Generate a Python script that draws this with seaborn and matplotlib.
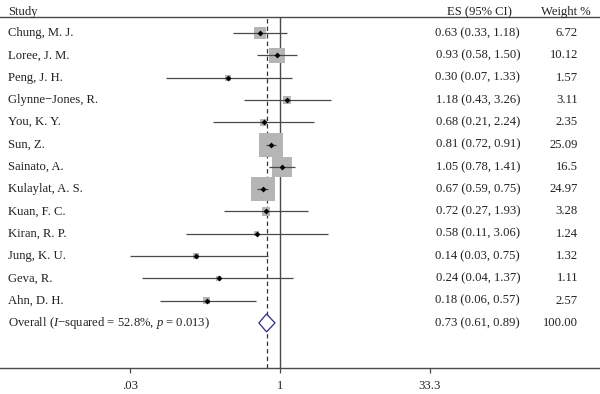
import numpy as np
import pandas as pd
import matplotlib
matplotlib.use('Agg')
import matplotlib.pyplot as plt
import matplotlib.transforms as mtransforms
import seaborn as sns

# Forest plot data
studies = ["Chung, M. J.", "Loree, J. M.", "Peng, J. H.", "Glynne\u2212Jones, R.", "You, K. Y.",
           "Sun, Z.", "Sainato, A.", "Kulaylat, A. S.", "Kuan, F. C.", "Kiran, R. P.",
           "Jung, K. U.", "Geva, R.", "Ahn, D. H."]
es = [0.63, 0.93, 0.30, 1.18, 0.68, 0.81, 1.05, 0.67, 0.72, 0.58, 0.14, 0.24, 0.18]
ci_lo = [0.33, 0.58, 0.07, 0.43, 0.21, 0.72, 0.78, 0.59, 0.27, 0.11, 0.03, 0.04, 0.06]
ci_hi = [1.18, 1.50, 1.33, 3.26, 2.24, 0.91, 1.41, 0.75, 1.93, 3.06, 0.75, 1.37, 0.57]
weights = [6.72, 10.12, 1.57, 3.11, 2.35, 25.09, 16.5, 24.97, 3.28, 1.24, 1.32, 1.11, 2.57]
weight_labels = ["6.72", "10.12", "1.57", "3.11", "2.35", "25.09", "16.5", "24.97",
                 "3.28", "1.24", "1.32", "1.11", "2.57"]
overall_label = "Overall ($I$\u2212squared = 52.8%, $p$ = 0.013)"
overall_es, overall_lo, overall_hi = 0.73, 0.61, 0.89
overall_weight = "100.00"
xticks = [0.03, 1, 33.3]
xtick_labels = [".03", "1", "33.3"]

sns.set_style("white")
plt.rcParams['font.family'] = ['Liberation Serif', 'DejaVu Serif']
plt.rcParams['mathtext.fontset'] = 'custom'
plt.rcParams['mathtext.rm'] = 'Liberation Serif'
plt.rcParams['mathtext.it'] = 'Liberation Serif:italic'

df = pd.DataFrame({"study": studies, "es": es, "lo": ci_lo, "hi": ci_hi,
                   "weight": weights, "row": np.arange(len(studies))})

fig = plt.figure(figsize=(6, 3.94), dpi=100)
ax = fig.add_axes([0, 26 / 394, 1, 351 / 394])

fs = 9.1
ink = "#222222"
line_col = "#4a4a4a"

# weight boxes (area proportional to weight)
sns.scatterplot(data=df, x="es", y="row", size="weight", marker="s",
                sizes=(0, 11.9 * 25.09), size_norm=(0, 25.09),
                color="#b5b5b5", linewidth=0, legend=False, ax=ax, zorder=2)
# confidence intervals
ax.hlines(df["row"], df["lo"], df["hi"], color=line_col, lw=0.9, zorder=3)
# point estimates
sns.scatterplot(data=df, x="es", y="row", marker="D", s=9, color="black",
                linewidth=0, legend=False, ax=ax, zorder=4)

n = len(studies)
# overall diamond
h = 0.4
ax.fill([overall_lo, overall_es, overall_hi, overall_es],
        [n, n - h, n, n + h], facecolor="white", edgecolor="#2b2b85", lw=0.9, zorder=3)

ax.axvline(1, color=line_col, lw=1.0, zorder=1)
ax.axvline(overall_es, color="#333333", lw=0.9, ls=(0, (3.5, 2.5)), zorder=1)

ax.set_xscale("log")
ax.set_xlim(10 ** (-280 / 98.5), 10 ** (320 / 98.5))
ax.set_ylim(15.02, -0.717)
ax.set_xticks(xticks)
ax.set_xticklabels(xtick_labels, fontsize=fs, color=ink)
ax.minorticks_off()
ax.set_yticks([])
ax.set_xlabel("")
ax.set_ylabel("")
ax.tick_params(axis="x", direction="out", length=3.5, width=0.9, color=line_col, pad=5,
               bottom=True)
for side in ["left", "right"]:
    ax.spines[side].set_visible(False)
for side in ["top", "bottom"]:
    ax.spines[side].set_color(line_col)
    ax.spines[side].set_linewidth(1.0)

tr = mtransforms.blended_transform_factory(fig.transFigure, ax.transData)
header_y = -0.95
ax.text(8 / 600, header_y, "Study", transform=tr, fontsize=fs, color=ink,
        va="center", ha="left", clip_on=False)
ax.text(479 / 600, header_y, "ES (95% CI)", transform=tr, fontsize=fs, color=ink,
        va="center", ha="center", clip_on=False)
ax.text(566 / 600, header_y, "Weight %", transform=tr, fontsize=fs, color=ink,
        va="center", ha="center", clip_on=False)

for i, row in df.iterrows():
    ax.text(8 / 600, row["row"], row["study"], transform=tr, fontsize=fs, color=ink,
            va="center", ha="left")
    ax.text(520 / 600, row["row"], f"{row['es']:.2f} ({row['lo']:.2f}, {row['hi']:.2f})",
            transform=tr, fontsize=fs, color=ink, va="center", ha="right")
    ax.text(578 / 600, row["row"], weight_labels[i], transform=tr, fontsize=fs,
            color=ink, va="center", ha="right")

ax.text(8 / 600, n, overall_label, transform=tr, fontsize=fs, color=ink,
        va="center", ha="left")
ax.text(520 / 600, n, f"{overall_es:.2f} ({overall_lo:.2f}, {overall_hi:.2f})",
        transform=tr, fontsize=fs, color=ink, va="center", ha="right")
ax.text(578 / 600, n, overall_weight, transform=tr, fontsize=fs, color=ink,
        va="center", ha="right")

fig.savefig("out.png", dpi=100)
plt.close(fig)
